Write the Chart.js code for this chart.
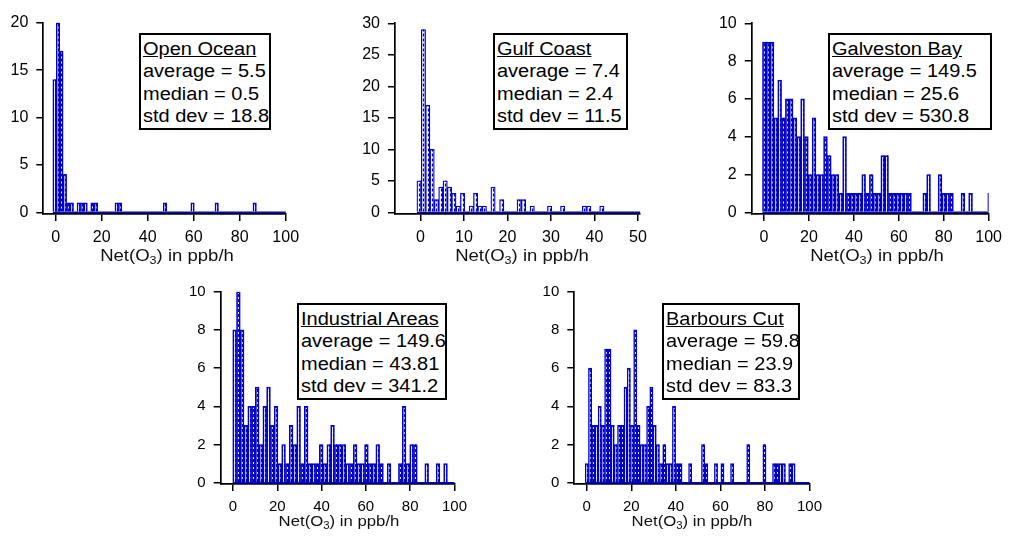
<!DOCTYPE html>
<html><head><meta charset="utf-8">
<script src="https://cdn.jsdelivr.net/npm/chart.js@4.4.1/dist/chart.umd.min.js"></script>
<style>
html,body{margin:0;padding:0;background:#fff;width:1010px;height:536px;overflow:hidden;position:relative;font-family:"Liberation Sans",Arial,sans-serif;}
canvas{position:absolute;}
.box{position:absolute;box-sizing:border-box;border:2px solid #000;background:#fff;}
.box .t{position:absolute;left:2px;top:3px;transform-origin:0 0;transform:scaleX(1.11);font-size:18px;line-height:22.3px;color:#000;white-space:nowrap;}
.xt{position:absolute;white-space:nowrap;color:#111;line-height:1;}
.xt sub{font-size:0.68em;vertical-align:-0.3em;line-height:0;}
</style></head><body>
<script>
// ---- data ----
const panelNames = ['Open Ocean', 'Gulf Coast', 'Galveston Bay', 'Industrial Areas', 'Barbours Cut'];
const averages = ['5.5', '7.4', '149.5', '149.6', '59.8'];
const medians = ['0.5', '2.4', '25.6', '43.81', '23.9'];
const stdDevs = ['18.8', '11.5', '530.8', '341.2', '83.3'];
const axisTitle = 'Net(O<sub>3</sub>) in ppb/h';

// histogram bins: first bin edge and bin width (ppb/h) per panel
const binStarts = [-1.25, -0.8, -0.7, -0.1, -0.7];
const binWidths = [1.5, 1.0, 1.7, 1.7, 1.45];

const oceanCounts = [14,20,17,4,1,1,0,1,1,1,0,1,1,0,0,0,0,0,1,1,
  0,0,0,0,0,0,0,0,0,0,0,0,1,0,0,0,0,0,0,0,1,0,0,0,0,0,0,1,0,0,0,0,0,0,0,0,0,0,1];
const gulfCounts = [5,29,17,10,2,4,5,4,3,1,3,0,1,3,1,1,0,4,0,2,
  0,0,0,2,2,0,1,0,0,0,1,0,0,1,0,0,0,0,1,1,0,0,1];
const galvestonCounts = [9,9,9,5,7,5,6,6,5,4, 6,4,2,5,2,2,4,3,2,2,
  1,4,1,1,1,1,2,1,2,1, 1,3,3,1,1,1,1,1,1,0, 0,0,1,2,0,0,2,1,1,1, 0,0,1,0,1,0,0,0,0,1];
const industrialCounts = [8,10,8,3,4,4,5,2,4,5, 3,4,1,2,1,3,2,4,1,4,
  1,1,1,2,1,2,3,2,2,2, 1,1,2,1,1,2,1,1,2,1, 0,1,0,0,1,4,1,2,2,0, 0,1,0,0,1,0,1];
const barboursCounts = [1,6,3,3,4,3,7,7,3,2, 3,3,5,6,3,8,3,2,2,4,
  5,3,2,1,2,1,1,4,1,1, 0,0,1,0,0,0,2,1,0,0, 1,0,1,0,0,1,0,0,0,0, 2,0,0,0,0,2,0,0,1,1, 1,1,0,1,1];
const allCounts = [oceanCounts, gulfCounts, galvestonCounts, industrialCounts, barboursCounts];

const xTicksWide = [0, 20, 40, 60, 80, 100];
const xTicksGulf = [0, 10, 20, 30, 40, 50];
const yTicksOcean = [0, 5, 10, 15, 20];
const yTicksGulf = [0, 5, 10, 15, 20, 25, 30];
const yTicksTen = [0, 2, 4, 6, 8, 10];
const xTickSets = [xTicksWide, xTicksGulf, xTicksWide, xTicksWide, xTicksWide];
const yTickSets = [yTicksOcean, yTicksGulf, yTicksTen, yTicksTen, yTicksTen];

// ---- layout / style ----
const BLUE = '#0000c8';
const FAMILY = '"Liberation Sans", Arial, sans-serif';
const layouts = [
  {cx:0,   cy:0,   cw:310, ch:252, L:43.3,  R:285.7, T:22.7,  B:214, xMin:-5.39, xMax:100,  yMin:-0.18, yMax:20, font:16, bw:1.6},
  {cx:355, cy:0,   cw:300, ch:252, L:395,   R:641.5, T:23.3,  B:214, xMin:-5.83, xMax:50.5, yMin:-0.27, yMax:30, font:16, bw:1.3},
  {cx:710, cy:0,   cw:300, ch:252, L:751.7, R:993.3, T:23.3,  B:214, xMin:-5.5,  xMax:100,  yMin:-0.09, yMax:10, font:16, bw:1.7},
  {cx:175, cy:270, cw:300, ch:252, L:220.7, R:461.3, T:291.7, B:484, xMin:-5.53, xMax:100,  yMin:-0.07, yMax:10, font:15, bw:1.7},
  {cx:530, cy:270, cw:300, ch:252, L:574.3, R:817.7, T:291.7, B:484, xMin:-5.6,  xMax:100,  yMin:-0.07, yMax:10, font:15, bw:1.7}
];
const boxRects = [[139,33,132,97],[493,33,135,97],[828,33,164,97],[297,303,150,97],[662,303,138,97]];
const titlePos = [[167,255,17,1.09],[522,255,17,1.09],[877,255,17,1.09],[339,521,15.5,1.08],[692,521,15.5,1.08]];

function histPlugin(i) {
  const counts = allCounts[i];
  return {
    id: 'hist' + i,
    beforeDatasetsDraw(chart) {
      const {ctx, chartArea, scales} = chart;
      const y0 = scales.y.getPixelForValue(0);
      ctx.save();
      ctx.strokeStyle = BLUE; ctx.lineWidth = 1.5;
      ctx.beginPath();
      ctx.moveTo(scales.x.getPixelForValue(binStarts[i]), y0);
      ctx.lineTo(chartArea.right, y0);
      ctx.stroke();
      ctx.restore();
    },
    afterDatasetsDraw(chart) {
      const {ctx, chartArea} = chart;
      const meta = chart.getDatasetMeta(0);
      ctx.save();
      ctx.beginPath();
      ctx.rect(chartArea.left, chartArea.top, chartArea.right - chartArea.left, chartArea.bottom - chartArea.top);
      ctx.clip();
      ctx.strokeStyle = BLUE; ctx.lineWidth = 1.2; ctx.setLineDash([3, 2]);
      meta.data.forEach((bar, k) => {
        if (!(counts[k] > 0)) return;
        const p = bar.getProps(['x', 'y', 'base'], true);
        const xx = Math.round(p.x) + 0.5;
        ctx.beginPath(); ctx.moveTo(xx, p.base); ctx.lineTo(xx, p.y); ctx.stroke();
      });
      ctx.restore();
    }
  };
}

function makeChart(i) {
  const lay = layouts[i];
  const canvas = document.createElement('canvas');
  canvas.width = lay.cw; canvas.height = lay.ch;
  canvas.style.left = lay.cx + 'px'; canvas.style.top = lay.cy + 'px';
  canvas.style.width = lay.cw + 'px'; canvas.style.height = lay.ch + 'px';
  document.body.appendChild(canvas);
  const data = allCounts[i].map((c, k) => ({x: binStarts[i] + binWidths[i] * (k + 0.5), y: c}));
  const grid = {offset: false, drawOnChartArea: false, drawTicks: true, tickLength: 7, color: '#000', lineWidth: 1.5};
  const border = {display: true, color: '#000', width: 1.7};
  const tickFont = {family: FAMILY, size: lay.font, lineHeight: 1.1};
  new Chart(canvas, {
    type: 'bar',
    data: {datasets: [{data, backgroundColor: '#ffffff', borderColor: BLUE, borderWidth: lay.bw,
      barPercentage: 1, categoryPercentage: 1, borderSkipped: 'start'}]},
    options: {
      responsive: false, animation: false, devicePixelRatio: 1,
      layout: {padding: {left: 0, top: lay.T - lay.cy, right: lay.cx + lay.cw - lay.R, bottom: 0}},
      plugins: {legend: {display: false}, tooltip: {enabled: false}},
      scales: {
        x: {type: 'linear', min: lay.xMin, max: lay.xMax, bounds: 'data', offset: false,
          afterBuildTicks: s => { s.ticks = xTickSets[i].map(v => ({value: v})); },
          afterFit: s => { s.height = lay.cy + lay.ch - lay.B; },
          grid, border,
          ticks: {autoSkip: false, maxRotation: 0, padding: 8, color: '#000', font: tickFont, callback: v => String(v)}},
        y: {type: 'linear', min: lay.yMin, max: lay.yMax, bounds: 'data',
          afterBuildTicks: s => { s.ticks = yTickSets[i].map(v => ({value: v})); },
          afterFit: s => { s.width = lay.L - lay.cx; },
          grid, border,
          ticks: {padding: 8, color: '#000', font: tickFont, callback: v => String(v)}}
      }
    },
    plugins: [histPlugin(i)]
  });
}

for (let i = 0; i < 5; i++) makeChart(i);

for (let i = 0; i < 5; i++) {
  const [tx, ty, fs, sx] = titlePos[i];
  const t = document.createElement('div');
  t.className = 'xt';
  t.style.left = tx + 'px'; t.style.top = ty + 'px'; t.style.fontSize = fs + 'px';
  t.style.transform = 'translate(-50%,-50%) scaleX(' + sx + ')';
  t.innerHTML = axisTitle;
  document.body.appendChild(t);

  const [bx, by, bw, bh] = boxRects[i];
  const b = document.createElement('div');
  b.className = 'box';
  b.style.left = bx + 'px'; b.style.top = by + 'px'; b.style.width = bw + 'px'; b.style.height = bh + 'px';
  const inner = document.createElement('div');
  inner.className = 't';
  inner.innerHTML = '<u>' + panelNames[i] + '</u><br>average = ' + averages[i] +
    '<br>median = ' + medians[i] + '<br>std dev = ' + stdDevs[i];
  b.appendChild(inner);
  document.body.appendChild(b);
}
</script>
</body></html>
